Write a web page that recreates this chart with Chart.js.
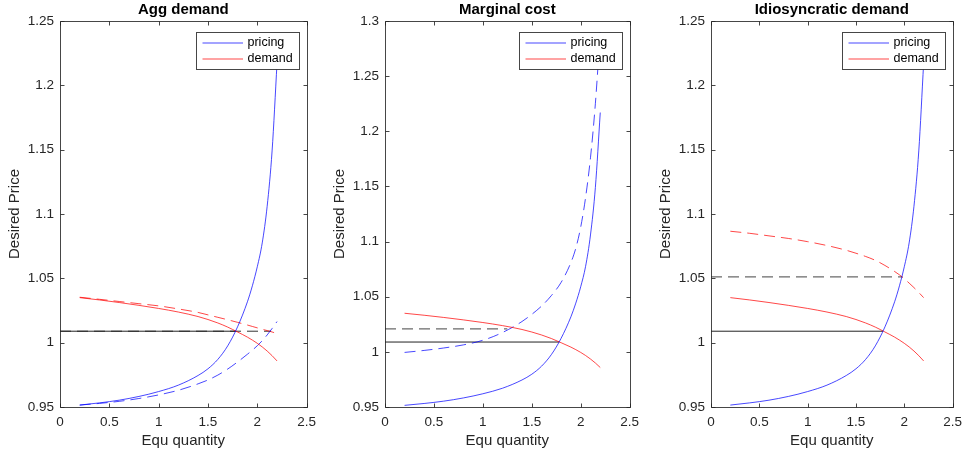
<!DOCTYPE html>
<html><head><meta charset="utf-8">
<script src="https://cdn.jsdelivr.net/npm/chart.js@4.4.0/dist/chart.umd.min.js"></script>
<style>
html,body{margin:0;padding:0;background:#fff;width:969px;height:457px;overflow:hidden}
canvas{position:absolute;top:0}
</style></head>
<body>
<canvas id="c1" width="323" height="457" style="left:0px"></canvas>
<canvas id="c2" width="323" height="457" style="left:323px"></canvas>
<canvas id="c3" width="323" height="457" style="left:646px"></canvas>
<script>
// ---- data ----
const quantity = [0.2,0.4,0.6,0.8,1.0,1.2,1.4,1.5,1.6,1.7,1.8,1.9,1.95,2.0,2.05,2.1,2.15,2.2];
const pricingBase = [0.9515,0.9532,0.9553,0.9582,0.9620,0.9670,0.9745,0.9797,0.9870,0.9975,1.0123,1.0318,1.0442,1.0590,1.0775,1.1060,1.1490,1.2170];
const demandBase = [1.0350,1.0332,1.0312,1.0290,1.0266,1.0238,1.0203,1.0180,1.0153,1.0121,1.0083,1.0043,1.0020,0.9995,0.9967,0.9935,0.9899,0.9858];
const pricingAggShock = [0.9515,0.9528,0.9544,0.9566,0.9594,0.9630,0.9680,0.9710,0.9748,0.9795,0.9850,0.9910,0.9942,0.9976,1.0015,1.0060,1.0110,1.0164];
const demandAggShock = [1.0353,1.0337,1.0320,1.0303,1.0286,1.0262,1.0235,1.0216,1.0197,1.0178,1.0158,1.0137,1.0126,1.0115,1.0104,1.0094,1.0083,1.0071];
const pricingCostShock = [0.9995,1.0013,1.0035,1.0063,1.0105,1.0175,1.0275,1.0340,1.0415,1.0510,1.0630,1.0810,1.0940,1.1130,1.1400,1.1760,1.2250,1.2900];
const demandIdioShock = [1.0866,1.0850,1.0830,1.0810,1.0785,1.0755,1.0718,1.0695,1.0670,1.0640,1.0600,1.0553,1.0527,1.0497,1.0463,1.0428,1.0390,1.0350];
const eqBase = {q:1.78, p:1.0089};
const eqAgg  = {q:2.14, p:1.0089};
const eqCost = {q:1.25, p:1.0208};
const eqIdio = {q:1.98, p:1.0511};
const xTicks = [0,0.5,1,1.5,2,2.5];
const xTickLabels = ['0','0.5','1','1.5','2','2.5'];
const yTicksA = [0.95,1,1.05,1.1,1.15,1.2,1.25];
const yTickLabelsA = ['0.95','1','1.05','1.1','1.15','1.2','1.25'];
const yTicksB = [0.95,1,1.05,1.1,1.15,1.2,1.25,1.3];
const yTickLabelsB = ['0.95','1','1.05','1.1','1.15','1.2','1.25','1.3'];
const panelTitles = ['Agg demand','Marginal cost','Idiosyncratic demand'];
const legendLabels = ['pricing','demand'];
const xTitle = 'Equ quantity';
const yTitle = 'Desired Price';

// ---- styles ----
const FONT = "'Liberation Sans', Arial, Helvetica, sans-serif";
const BLUE = 'rgba(0,0,255,0.72)';
const RED = 'rgba(255,0,0,0.72)';
const AXIS = 'rgba(38,38,38,0.85)';
const TXT = '#262626';
const DASH = [11,6];
const TICK = 4;

const pts = ys => quantity.map((q,i)=>({x:q,y:ys[i]}));
const hline = e => [{x:0,y:e.p},{x:e.q,y:e.p}];
const curve = (label, ys, color, dash) => ({label, data:pts(ys), borderColor:color, borderWidth:1,
  borderDash: dash||[], pointRadius:0, cubicInterpolationMode:'monotone', fill:false});
const ref = (e, color, dash, w) => ({label:'', data:hline(e), borderColor:color, borderWidth:w||1,
  borderDash: dash||[], pointRadius:0, fill:false, tension:0});

const matlabFrame = {
  id:'matlabFrame',
  afterDatasetsDraw(chart){
    const {ctx, chartArea:a, scales:{x,y}} = chart;
    const L=Math.round(a.left)+0.5, R=Math.round(a.right)+0.5, T=Math.round(a.top)+0.5, B=Math.round(a.bottom)+0.5;
    ctx.save();
    ctx.strokeStyle=AXIS; ctx.lineWidth=1;
    ctx.beginPath();
    ctx.rect(L,T,R-L,B-T);
    x.ticks.forEach(t=>{const px=Math.round(x.getPixelForValue(t.value))+0.5;
      ctx.moveTo(px,B); ctx.lineTo(px,B-TICK); ctx.moveTo(px,T); ctx.lineTo(px,T+TICK);});
    y.ticks.forEach(t=>{const py=Math.round(y.getPixelForValue(t.value))+0.5;
      ctx.moveTo(L,py); ctx.lineTo(L+TICK,py); ctx.moveTo(R,py); ctx.lineTo(R-TICK,py);});
    ctx.stroke();
    ctx.restore();
  },
  afterDraw(chart){
    const {ctx, chartArea:a} = chart;
    const w=103, h=37;
    const left=Math.round(a.right-8-w)+0.5, top=Math.round(a.top+11)+0.5;
    ctx.save();
    ctx.fillStyle='#fff'; ctx.fillRect(left,top,w,h);
    ctx.strokeStyle=AXIS; ctx.lineWidth=1; ctx.strokeRect(left,top,w,h);
    const items = chart.data.datasets.filter(d=>legendLabels.includes(d.label));
    items.forEach((d,i)=>{
      const yy = top + 10.5 + i*16;
      ctx.strokeStyle=d.borderColor; ctx.lineWidth=1; ctx.setLineDash([]);
      ctx.beginPath(); ctx.moveTo(left+6,yy); ctx.lineTo(left+46.5,yy); ctx.stroke();
      ctx.fillStyle='#000'; ctx.font='12.5px '+FONT; ctx.textBaseline='middle'; ctx.textAlign='left';
      ctx.fillText(d.label, left+51, yy);
    });
    ctx.restore();
  }
};

function makePanel(id, title, datasets, yMax, yTicks, yLabels, yAxisW, padRight){
  new Chart(document.getElementById(id), {
    type:'line',
    data:{datasets},
    options:{
      responsive:false, animation:false, devicePixelRatio:1,
      events:[],
      layout:{padding:{left:0,right:padRight,top:0,bottom:0}},
      plugins:{
        legend:{display:false}, tooltip:{enabled:false},
        title:{display:true, text:title, fullSize:false, color:'#000',
          font:{family:FONT, size:15, weight:'bold', lineHeight:1.2}, padding:{top:1,bottom:2}}
      },
      scales:{
        x:{type:'linear', min:0, max:2.5,
          afterBuildTicks:s=>{s.ticks = xTicks.map(v=>({value:v}));},
          afterFit:s=>{s.height=50;},
          grid:{display:false, drawTicks:false}, border:{display:false},
          ticks:{color:TXT, font:{family:FONT,size:13.5}, padding:7, maxRotation:0, autoSkip:false,
            callback:(v,i)=>xTickLabels[i]},
          title:{display:true, text:xTitle, color:TXT, font:{family:FONT,size:15}, padding:{top:0,bottom:7}}
        },
        y:{type:'linear', min:0.95, max:yMax,
          afterBuildTicks:s=>{s.ticks = yTicks.map(v=>({value:v}));},
          afterFit:s=>{s.width=yAxisW;},
          grid:{display:false, drawTicks:false}, border:{display:false},
          ticks:{color:TXT, font:{family:FONT,size:13.5}, padding:6, autoSkip:false,
            callback:(v,i)=>yLabels[i]},
          title:{display:true, text:yTitle, color:TXT, font:{family:FONT,size:15}, padding:{top:yAxisW-54,bottom:0}}
        }
      }
    },
    plugins:[matlabFrame]
  });
}

makePanel('c1', panelTitles[0], [
  curve(legendLabels[0], pricingBase, BLUE),
  curve(legendLabels[1], demandBase, RED),
  curve('', pricingAggShock, BLUE, DASH),
  curve('', demandAggShock, RED, DASH),
  ref(eqBase, '#222'),
  ref(eqAgg, '#333', DASH)
], 1.25, yTicksA, yTickLabelsA, 60, 16);

makePanel('c2', panelTitles[1], [
  curve(legendLabels[0], pricingBase, BLUE),
  curve(legendLabels[1], demandBase, RED),
  curve('', pricingCostShock, BLUE, DASH),
  ref(eqBase, '#222'),
  ref(eqCost, '#6a6a6a', DASH, 1.3)
], 1.3, yTicksB, yTickLabelsB, 62, 13);

makePanel('c3', panelTitles[2], [
  curve(legendLabels[0], pricingBase, BLUE),
  curve(legendLabels[1], demandBase, RED),
  curve('', demandIdioShock, RED, DASH),
  ref(eqBase, '#222'),
  ref(eqIdio, '#6a6a6a', DASH, 1.3)
], 1.25, yTicksA, yTickLabelsA, 65, 11);
</script>
</body></html>
